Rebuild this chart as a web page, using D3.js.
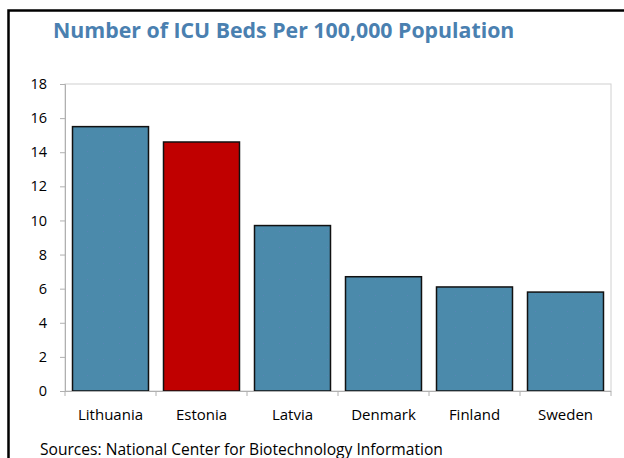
<!DOCTYPE html>
<html><head><meta charset="utf-8">
<script src="https://cdn.jsdelivr.net/npm/d3@7"></script>
<style>body{margin:0;background:#fff;}svg{display:block;}</style>
</head><body>
<script>
const categories = ["Lithuania","Estonia","Latvia","Denmark","Finland","Sweden"];
const values = [15.5, 14.6, 9.7, 6.7, 6.1, 5.8];
const highlight = ["Estonia"];
const yTicks = [0,2,4,6,8,10,12,14,16,18];
const title = "Number of ICU Beds Per 100,000 Population";
const source = "Sources: National Center for Biotechnology Information";

const W = 624, H = 458;
const m = {left:65, right:13, top:84, bottom:67};
const svg = d3.select("body").append("svg").attr("width",W).attr("height",H);
const font = "'Open Sans', 'Noto Sans', sans-serif";

// frame
svg.append("path").attr("d","M8.5,"+H+" V10.5 H"+W).attr("fill","none").attr("stroke","#000").attr("stroke-width",2.5);

svg.append("text").attr("x",53).attr("y",38).text(title)
  .attr("font-family",font).attr("font-weight",700).attr("font-size",21.3).attr("fill","#4a80b0");

const x = d3.scaleBand().domain(categories).range([m.left, W-m.right]).paddingInner(0.165).paddingOuter(0.0825);
const y = d3.scaleLinear().domain([0,18]).range([H-m.bottom, m.top]);

// plot border
svg.append("rect").attr("x",m.left).attr("y",m.top).attr("width",W-m.right-m.left).attr("height",H-m.bottom-m.top)
  .attr("fill","none").attr("stroke","#d0d0d0").attr("stroke-width",1);

const defs = svg.append("defs");
const pat = defs.append("pattern").attr("id","dots").attr("width",16).attr("height",16).attr("patternUnits","userSpaceOnUse");
pat.append("rect").attr("width",16).attr("height",16).attr("fill","#4b8aab");
pat.append("rect").attr("x",7).attr("y",7).attr("width",1).attr("height",1).attr("fill","#5a84b6");

svg.append("g").selectAll("rect").data(categories).join("rect")
  .attr("x",d=>x(d)).attr("width",x.bandwidth())
  .attr("y",(d,i)=>y(values[i])).attr("height",(d,i)=>y(0)-y(values[i]))
  .attr("fill",d=>highlight.includes(d)?"#c00000":"url(#dots)")
  .attr("stroke","#111").attr("stroke-width",1.5);

// y axis
const ya = svg.append("g").attr("transform",`translate(${m.left},0)`)
  .call(d3.axisLeft(y).tickValues(yTicks).tickSize(5).tickPadding(13));
ya.select(".domain").attr("stroke","#b0b0b0");
ya.selectAll(".tick line").attr("stroke","#b0b0b0");
ya.selectAll("text").attr("font-family",font).attr("font-size",14.5).attr("fill","#000");

// x axis
const xa = svg.append("g").attr("transform",`translate(0,${H-m.bottom})`);
xa.append("line").attr("x1",m.left).attr("x2",W-m.right).attr("y1",0.5).attr("y2",0.5).attr("stroke","#b0b0b0");
const bounds = d3.range(categories.length+1).map(i=>m.left + i*(W-m.right-m.left)/categories.length);
xa.selectAll("line.tk").data(bounds).join("line").attr("class","tk")
  .attr("x1",d=>d).attr("x2",d=>d).attr("y1",0).attr("y2",5).attr("stroke","#b0b0b0");
xa.selectAll("text").data(categories).join("text")
  .attr("x",d=>x(d)+x.bandwidth()/2).attr("y",29).attr("text-anchor","middle")
  .attr("font-family",font).attr("font-size",15).text(d=>d);

svg.append("text").attr("x",40).attr("y",455).text(source)
  .attr("font-family",font).attr("font-size",15.6).attr("fill","#000");
</script>
</body></html>
